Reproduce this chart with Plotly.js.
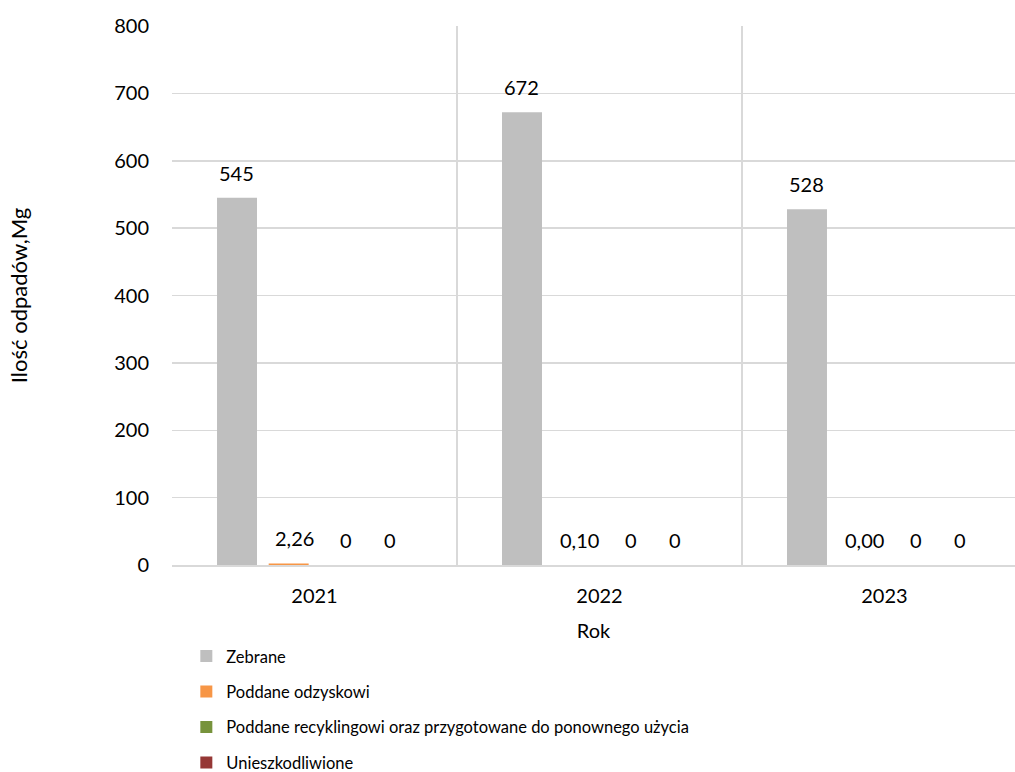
<!DOCTYPE html>
<html>
<head>
<meta charset="utf-8">
<script src="https://cdn.plot.ly/plotly-3.0.1.min.js"></script>
<style>html,body{margin:0;padding:0;background:#fff;overflow:hidden;}#chart{width:1015px;height:800px;}</style>
</head>
<body>
<div id="chart"></div>
<script>
const years = ['2021', '2022', '2023'];
const seriesNames = ['Zebrane', 'Poddane odzyskowi', 'Poddane recyklingowi oraz przygotowane do ponownego użycia', 'Unieszkodliwione'];
const zebrane = [545, 672, 528];
const odzysk = [2.26, 0.10, 0.00];
const recykling = [0, 0, 0];
const unieszkodliwione = [0, 0, 0];
const colors = ['#bfbfbf', '#f79646', '#77933c', '#953735'];
const decimals = [0, 2, 0, 0];
const values = [zebrane, odzysk, recykling, unieszkodliwione];

const FONT = 'Lato, "Open Sans", sans-serif';
const traces = values.map((v, i) => ({
  type: 'bar',
  name: seriesNames[i],
  x: years,
  y: v,
  marker: {color: colors[i]},
  legendgroup: 'g' + i,
  hoverinfo: 'none'
}));

// data labels, placed at each bar's value through the axes (x = category index)
const SLOT = 51.7;               // px between bar centres within a group
const LABEL_NUDGE = [0, 6, 6, -2]; // small horizontal nudges of labels
const annotations = [];
values.forEach((v, i) => {
  v.forEach((val, j) => {
    annotations.push({
      x: j, y: val, xref: 'x', yref: 'y',
      text: val.toFixed(decimals[i]).replace('.', ','),
      showarrow: false,
      xanchor: 'center', yanchor: 'middle',
      xshift: (i - 1.5) * SLOT + LABEL_NUDGE[i],
      yshift: 25,
      font: {family: FONT, size: 20, color: '#000'}
    });
  });
});

const layout = {
  width: 1015, height: 800,
  margin: {l: 172, r: 0, t: 26, b: 235},
  paper_bgcolor: '#fff', plot_bgcolor: '#fff',
  font: {family: FONT, size: 18, color: '#000'},
  barmode: 'group',
  bargap: 0.275,
  bargroupgap: 0.226,
  annotations: annotations,
  xaxis: {
    type: 'category',
    range: [-0.5, 2.458],
    tickson: 'boundaries',
    showgrid: true, gridcolor: '#d9d9d9', gridwidth: 1.5,
    showline: true, linecolor: '#d9d9d9', linewidth: 1.5,
    ticks: '', ticklen: 0,
    ticklabelstandoff: 12,
    tickfont: {family: FONT, size: 20},
    title: {text: 'Rok', font: {family: FONT, size: 20}, standoff: 18}
  },
  yaxis: {
    range: [0, 800], dtick: 100,
    showgrid: true, gridcolor: '#d9d9d9', gridwidth: 1.5,
    zeroline: false, showline: false,
    ticks: '', ticklabelstandoff: 22,
    tickfont: {family: FONT, size: 20},
    title: {text: 'Ilość odpadów,Mg', font: {family: FONT, size: 22}, standoff: 80}
  },
  showlegend: true,
  legend: {
    orientation: 'v',
    x: 0.017, xanchor: 'left',
    y: -0.137, yanchor: 'top',
    font: {family: FONT, size: 16.5},
    traceorder: 'grouped',
    tracegroupgap: 11,
    itemwidth: 30,
    bgcolor: 'rgba(0,0,0,0)'
  }
};

Plotly.newPlot('chart', traces, layout, {displayModeBar: false, staticPlot: true});
</script>
</body>
</html>
